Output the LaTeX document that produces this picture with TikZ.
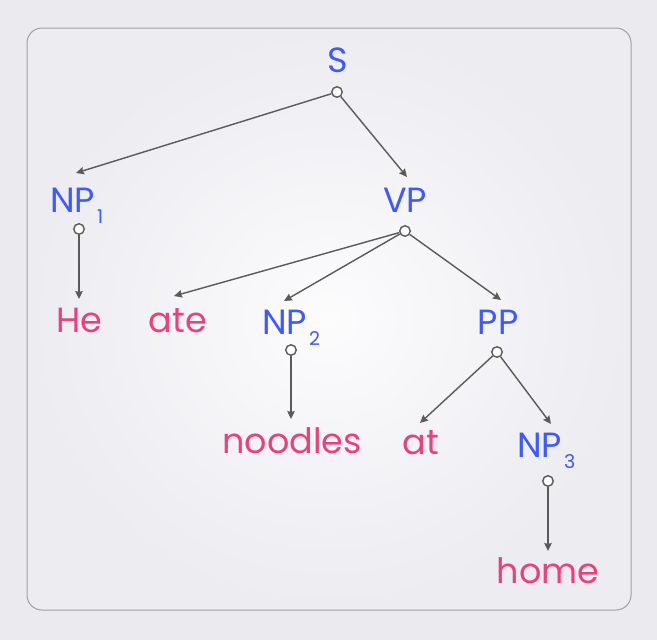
\documentclass[tikz,border=0pt]{standalone}
\usepackage{fontspec}
\setmainfont{Poppins}
\usetikzlibrary{arrows.meta}
\definecolor{pagebg}{RGB}{235,234,239}
\definecolor{panelmid}{RGB}{252,252,253}
\definecolor{paneledge}{RGB}{236,236,241}
\definecolor{framec}{RGB}{160,160,166}
\definecolor{phrase}{RGB}{61,90,254}
\definecolor{word}{RGB}{236,64,122}
\definecolor{edgec}{RGB}{90,90,90}
\tikzset{
  phr/.style={text=phrase, inner sep=0pt, font=\fontsize{35}{35}\selectfont},
  wrd/.style={text=word, inner sep=0pt, anchor=base, font=\fontsize{35}{35}\selectfont},
  knob/.style={circle, draw=edgec, fill=white, line width=1.4pt, minimum size=10.5pt, inner sep=0pt},
  link/.style={draw=edgec, line width=1.4pt, -{Stealth[length=8pt,width=7.5pt,inset=1pt]}},
}
\newcommand{\idx}[1]{\hspace{2pt}\raisebox{-11pt}{\fontsize{19}{19}\selectfont #1}}
\begin{document}
\begin{tikzpicture}[x=1pt,y=-1pt]
  % page and panel
  \fill[pagebg] (0,0) rectangle (657,640);
  \useasboundingbox (0,0) rectangle (657,640);
  \shade[rounded corners=15pt, inner color=panelmid, outer color=paneledge]
    (27,28) rectangle (631,610);
  \draw[framec, line width=1pt, rounded corners=15pt] (27,28) rectangle (631,610);

  % phrase labels
  \node[phr, anchor=base] (S) at (338,72) {S};
  \node[phr, anchor=base west] (NP1) at (50,212) {NP\idx{1}};
  \node[phr, anchor=base] (VP) at (405,212) {VP};
  \node[phr, anchor=base west] (NP2) at (262,334) {NP\idx{2}};
  \node[phr, anchor=base] (PP) at (498,334) {PP};
  \node[phr, anchor=base west] (NP3) at (517,457) {NP\idx{3}};

  % word labels
  \node[wrd] (he) at (79,332) {He};
  \node[wrd] (ate) at (178,332) {ate};
  \node[wrd] (noodles) at (292,453) {noodles};
  \node[wrd] (at) at (421,454) {at};
  \node[wrd] (home) at (548,583) {home};

  % branching points
  \node[knob] (kS) at (337,92) {};
  \node[knob] (kNP1) at (79,229) {};
  \node[knob] (kVP) at (405,231) {};
  \node[knob] (kNP2) at (291,350) {};
  \node[knob] (kPP) at (497,352) {};
  \node[knob] (kNP3) at (548,481) {};

  % arrow ends above the children
  \coordinate (tNP1) at (76,173);
  \coordinate (tVP) at (407,177);
  \coordinate (the) at (79,299);
  \coordinate (tate) at (174,296);
  \coordinate (tNP2) at (284,301);
  \coordinate (tPP) at (501,300);
  \coordinate (tnoodles) at (291,419);
  \coordinate (tat) at (420,423);
  \coordinate (tNP3) at (551,424);
  \coordinate (thome) at (548,551);

  % branches
  \draw[link] (kS) -- (tNP1);
  \draw[link] (kS) -- (tVP);
  \draw[link] (kNP1) -- (the);
  \draw[link] (kVP) -- (tate);
  \draw[link] (kVP) -- (tNP2);
  \draw[link] (kVP) -- (tPP);
  \draw[link] (kNP2) -- (tnoodles);
  \draw[link] (kPP) -- (tat);
  \draw[link] (kPP) -- (tNP3);
  \draw[link] (kNP3) -- (thome);
\end{tikzpicture}
\end{document}
